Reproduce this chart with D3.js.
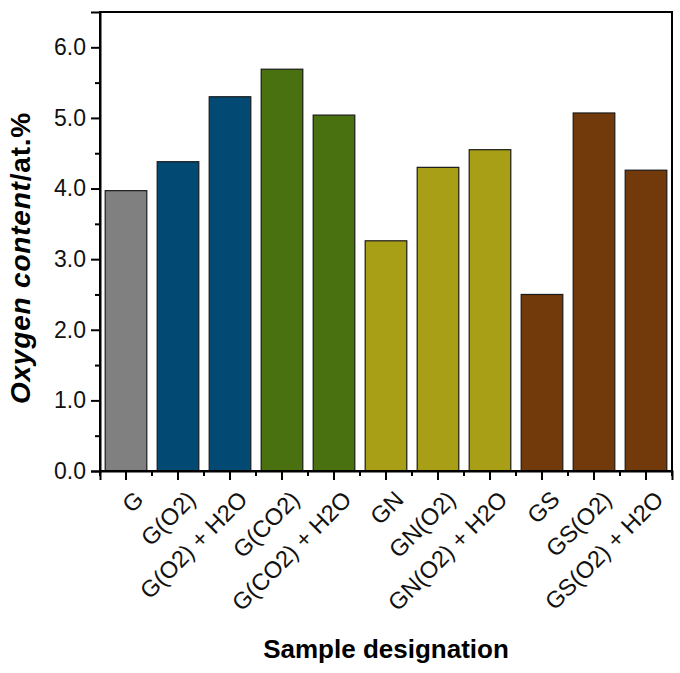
<!DOCTYPE html>
<html><head><meta charset="utf-8">
<script src="https://cdn.jsdelivr.net/npm/d3@7"></script>
<style>body{margin:0;background:#fff}svg{display:block}text{font-family:"Liberation Sans",Arial,sans-serif}</style>
</head><body>
<svg id="c" width="680" height="673"></svg>
<script>
const categories = ["G","G(O2)","G(O2) + H2O","G(CO2)","G(CO2) + H2O","GN","GN(O2)","GN(O2) + H2O","GS","GS(O2)","GS(O2) + H2O"];
const values = [3.97,4.38,5.30,5.69,5.04,3.26,4.30,4.55,2.50,5.07,4.26];
const groups = ["G","O2","O2","CO2","CO2","N","N","N","S","S","S"];
const groupColors = {G:"#808080",O2:"#024a74",CO2:"#4a7110",N:"#a89f16",S:"#72390b"};
const yTicks = [0,1,2,3,4,5,6];

const svg = d3.select("#c");
const m = {l:100,t:12,r:672,b:471};
const x = d3.scaleBand().domain(categories).range([m.l,m.r]).paddingInner(0.2).paddingOuter(0.1);
const y = d3.scaleLinear().domain([0,6.5]).range([m.b,m.t]);

// bars
svg.append("g").selectAll("rect").data(categories).join("rect")
  .attr("x",d=>x(d)).attr("width",x.bandwidth())
  .attr("y",(d,i)=>y(values[i])).attr("height",(d,i)=>y(0)-y(values[i]))
  .attr("fill",(d,i)=>groupColors[groups[i]]).attr("stroke","#1a1a1a").attr("stroke-width",1.2);

// frame
svg.append("rect").attr("x",m.l).attr("y",m.t).attr("width",m.r-m.l).attr("height",m.b-m.t)
  .attr("fill","none").attr("stroke","#000").attr("stroke-width",2);

// y axis
const yAx = svg.append("g").attr("transform",`translate(${m.l},0)`)
  .call(d3.axisLeft(y).tickValues(yTicks).tickFormat(d3.format(".1f")).tickSize(9).tickPadding(5));
yAx.select(".domain").attr("stroke-width",2);
yAx.selectAll(".tick line").attr("stroke-width",2);
yAx.selectAll("text").attr("font-size",23).attr("fill","#111");
svg.append("g").attr("transform",`translate(${m.l},0)`)
  .call(d3.axisLeft(y).tickValues([0.5,1.5,2.5,3.5,4.5,5.5]).tickFormat("").tickSize(5))
  .call(g=>{g.select(".domain").remove();g.selectAll("line").attr("stroke-width",2);});

// x axis
const xAx = svg.append("g").attr("transform",`translate(0,${m.b})`)
  .call(d3.axisBottom(x).tickSize(9).tickPadding(4));
xAx.select(".domain").attr("stroke-width",2);
xAx.selectAll(".tick line").attr("stroke-width",2);
xAx.selectAll("text").attr("font-size",23.5).attr("fill","#111")
  .attr("text-anchor","end").attr("dy","0.35em")
  .attr("transform","translate(4,15) rotate(-45)");
// minor ticks at band boundaries
const bounds = categories.map(c=>x(c)-x.step()*x.paddingInner()/2).concat([x(categories[categories.length-1])+x.bandwidth()+x.step()*x.paddingInner()/2]);
svg.append("g").selectAll("line").data(bounds).join("line")
  .attr("x1",d=>d).attr("x2",d=>d).attr("y1",m.b).attr("y2",m.b+5)
  .attr("stroke","#000").attr("stroke-width",2);

// titles
svg.append("text").attr("x",386).attr("y",658).attr("text-anchor","middle")
  .attr("font-size",26).attr("font-weight","bold").text("Sample designation");
const yt = svg.append("text").attr("transform","translate(30,258) rotate(-90)").attr("text-anchor","middle")
  .attr("font-size",28).attr("font-weight","bold").attr("letter-spacing",0.8);
yt.append("tspan").attr("font-style","italic").text("Oxygen content");
yt.append("tspan").text("/at.%");
</script>
</body></html>
